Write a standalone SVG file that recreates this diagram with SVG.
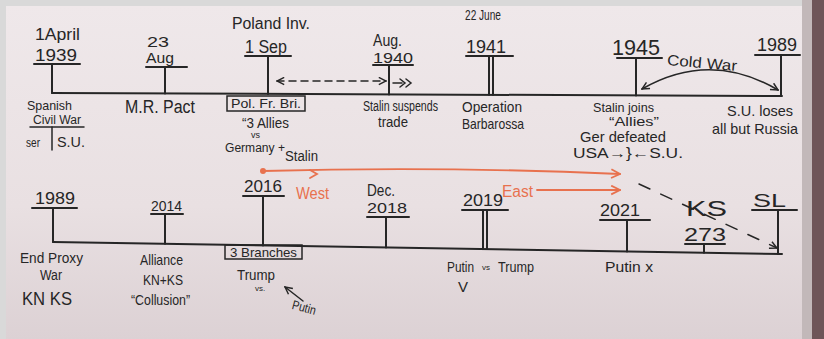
<svg xmlns="http://www.w3.org/2000/svg" width="824" height="339" viewBox="0 0 824 339">
<defs>
<linearGradient id="board" x1="0" y1="0" x2="0" y2="1">
<stop offset="0" stop-color="#efe8ea"/>
<stop offset="0.6" stop-color="#e9e0e2"/>
<stop offset="1" stop-color="#dcd1d4"/>
</linearGradient>
<marker id="ah" viewBox="0 0 10 10" refX="9" refY="5" markerWidth="9" markerHeight="9" orient="auto-start-reverse" markerUnits="userSpaceOnUse">
<path d="M1,1 L9,5 L1,9" fill="none" stroke="#262626" stroke-width="1.6"/>
</marker>
<marker id="oh" viewBox="0 0 10 10" refX="9" refY="5" markerWidth="11" markerHeight="11" orient="auto" markerUnits="userSpaceOnUse">
<path d="M1,1 L9,5 L1,9" fill="none" stroke="#e8714e" stroke-width="1.6"/>
</marker>
</defs>
<style>
.ink{stroke:#262626;stroke-width:2;fill:none;stroke-linecap:round}
.thin{stroke:#262626;stroke-width:1.5;fill:none;stroke-linecap:round}
.org{stroke:#e8714e;stroke-width:1.8;fill:none;stroke-linecap:round}
.t{font-family:"Liberation Sans",Arial,sans-serif;fill:#262626}
.ot{font-family:"Liberation Sans",Arial,sans-serif;fill:#e8714e}
</style>
<rect x="0" y="0" width="824" height="339" fill="#d9d9d9"/>
<rect x="6" y="6" width="798" height="333" fill="url(#board)"/>
<rect x="802" y="0" width="10" height="339" fill="#c2b8b9"/>
<rect x="812" y="0" width="12" height="339" fill="#6e5558"/>

<g id="connectors">
<line class="ink" x1="52" y1="93" x2="782" y2="96"/>
<line class="ink" x1="53" y1="242" x2="782" y2="254"/>
<line class="thin" x1="277" y1="81" x2="386" y2="81" stroke-dasharray="7 5" marker-start="url(#ah)" marker-end="url(#ah)"/>
<path class="thin" d="M393,83 L402,83 M400,79 L405,83 L400,87 M406,79 L411,83 L406,87"/>
<path class="thin" d="M642,89 Q710,50 778,90" marker-start="url(#ah)" marker-end="url(#ah)"/>
<line class="thin" x1="639" y1="184" x2="777" y2="248" stroke-dasharray="12 12" marker-end="url(#ah)"/>
<circle cx="263" cy="171" r="3" fill="#e8714e"/>
<path class="org" d="M263,171 Q440,166 620,174" marker-end="url(#oh)"/>
<path class="org" d="M310,170 L317,174 L310,178"/>
<line class="org" x1="537" y1="190" x2="620" y2="190" marker-end="url(#oh)"/>
<line class="thin" x1="303" y1="301" x2="285" y2="287" marker-end="url(#ah)"/>
</g>

<g id="n1939">
<text class="t" x="35" y="40" font-size="16" textLength="45" lengthAdjust="spacingAndGlyphs">1April</text>
<text class="t" x="35" y="61" font-size="16" textLength="42" lengthAdjust="spacingAndGlyphs">1939</text>
<line class="ink" x1="34" y1="64" x2="80" y2="64"/>
<line class="ink" x1="52" y1="64" x2="52" y2="93"/>
<text class="t" x="27" y="110" font-size="13" textLength="45" lengthAdjust="spacingAndGlyphs">Spanish</text>
<text class="t" x="33" y="124" font-size="12.5" textLength="48" lengthAdjust="spacingAndGlyphs">Civil War</text>
<line class="thin" x1="30" y1="127" x2="84" y2="127"/>
<line class="thin" x1="52" y1="127" x2="52" y2="150"/>
<text class="t" x="26" y="147" font-size="13" textLength="14" lengthAdjust="spacingAndGlyphs">ser</text>
<text class="t" x="57" y="147" font-size="15" textLength="28" lengthAdjust="spacingAndGlyphs">S.U.</text>
</g>

<g id="n23aug">
<text class="t" x="147" y="47" font-size="14" textLength="22" lengthAdjust="spacingAndGlyphs">23</text>
<text class="t" x="146" y="63" font-size="14" textLength="28" lengthAdjust="spacingAndGlyphs">Aug</text>
<line class="ink" x1="146" y1="67" x2="187" y2="67"/>
<line class="ink" x1="165" y1="67" x2="165" y2="93.5"/>
<text class="t" x="125" y="113" font-size="18" textLength="70" lengthAdjust="spacingAndGlyphs">M.R. Pact</text>
</g>

<g id="n1sep">
<text class="t" x="232" y="29" font-size="16" textLength="78" lengthAdjust="spacingAndGlyphs">Poland Inv.</text>
<text class="t" x="245" y="53" font-size="18" textLength="42" lengthAdjust="spacingAndGlyphs">1 Sep</text>
<line class="ink" x1="245" y1="56" x2="291" y2="56"/>
<line class="ink" x1="268" y1="56" x2="268" y2="94"/>
<rect class="thin" x="227" y="96" width="78" height="15"/>
<text class="t" x="231" y="108" font-size="13" textLength="70" lengthAdjust="spacingAndGlyphs">Pol. Fr. Bri.</text>
<text class="t" x="242" y="128" font-size="15" textLength="47" lengthAdjust="spacingAndGlyphs">“3 Allies</text>
<text class="t" x="251" y="138" font-size="9">vs</text>
<text class="t" x="225" y="152" font-size="12" textLength="60" lengthAdjust="spacingAndGlyphs">Germany +</text>
<text class="t" x="285" y="161" font-size="14" textLength="33" lengthAdjust="spacingAndGlyphs">Stalin</text>
</g>

<g id="n1940">
<text class="t" x="373" y="46" font-size="16" textLength="29" lengthAdjust="spacingAndGlyphs">Aug.</text>
<text class="t" x="373" y="63" font-size="15" textLength="40" lengthAdjust="spacingAndGlyphs">1940</text>
<line class="ink" x1="373" y1="65" x2="413" y2="65"/>
<line class="ink" x1="389" y1="65" x2="389" y2="94.4"/>
<text class="t" x="363" y="111" font-size="14" textLength="75" lengthAdjust="spacingAndGlyphs">Stalin suspends</text>
<text class="t" x="378" y="127" font-size="14" textLength="30" lengthAdjust="spacingAndGlyphs">trade</text>
</g>

<g id="n1941">
<text class="t" x="465" y="20" font-size="14" textLength="36" lengthAdjust="spacingAndGlyphs">22 June</text>
<text class="t" x="466" y="53" font-size="18" textLength="40" lengthAdjust="spacingAndGlyphs">1941</text>
<line class="ink" x1="466" y1="56" x2="513" y2="56"/>
<line class="ink" x1="489" y1="57" x2="489" y2="94.8"/>
<line class="ink" x1="493" y1="57" x2="493" y2="94.8"/>
<text class="t" x="462" y="112" font-size="15" textLength="60" lengthAdjust="spacingAndGlyphs">Operation</text>
<text class="t" x="462" y="129" font-size="15" textLength="62" lengthAdjust="spacingAndGlyphs">Barbarossa</text>
</g>

<g id="n1945">
<text class="t" x="612" y="55" font-size="22" textLength="48" lengthAdjust="spacingAndGlyphs">1945</text>
<line class="ink" x1="617" y1="58" x2="662" y2="58"/>
<line class="ink" x1="636" y1="58" x2="636" y2="95.4"/>
<text class="t" x="593" y="112" font-size="12.5" textLength="61" lengthAdjust="spacingAndGlyphs">Stalin joins</text>
<text class="t" x="609" y="126" font-size="12.5" textLength="50" lengthAdjust="spacingAndGlyphs">“Allies”</text>
<text class="t" x="580" y="142" font-size="14" textLength="86" lengthAdjust="spacingAndGlyphs">Ger defeated</text>
<text class="t" x="573" y="158" font-size="14" textLength="110" lengthAdjust="spacingAndGlyphs">USA→}←S.U.</text>
</g>

<g id="coldwar">
<text class="t" x="667" y="68" font-size="15" textLength="70" lengthAdjust="spacingAndGlyphs" transform="rotate(5 702 64)">Cold War</text>
</g>

<g id="n1989top">
<text class="t" x="757" y="51" font-size="18" textLength="40" lengthAdjust="spacingAndGlyphs">1989</text>
<line class="ink" x1="755" y1="55" x2="800" y2="55"/>
<line class="ink" x1="781" y1="55" x2="781" y2="96"/>
<text class="t" x="727" y="116" font-size="15" textLength="66" lengthAdjust="spacingAndGlyphs">S.U. loses</text>
<text class="t" x="712" y="134" font-size="15" textLength="86" lengthAdjust="spacingAndGlyphs">all but Russia</text>
</g>

<g id="n1989">
<text class="t" x="35" y="204" font-size="16" textLength="40" lengthAdjust="spacingAndGlyphs">1989</text>
<line class="ink" x1="32" y1="208" x2="77" y2="208"/>
<line class="ink" x1="53" y1="208" x2="53" y2="242"/>
<text class="t" x="20" y="263" font-size="14" textLength="63" lengthAdjust="spacingAndGlyphs">End Proxy</text>
<text class="t" x="40" y="280" font-size="14" textLength="22" lengthAdjust="spacingAndGlyphs">War</text>
<text class="t" x="22" y="305" font-size="18" textLength="50" lengthAdjust="spacingAndGlyphs">KN  KS</text>
</g>

<g id="n2014">
<text class="t" x="151" y="211" font-size="15" textLength="31" lengthAdjust="spacingAndGlyphs">2014</text>
<line class="ink" x1="151" y1="214" x2="183" y2="214"/>
<line class="ink" x1="165" y1="214" x2="165" y2="243.8"/>
<text class="t" x="140" y="265" font-size="15" textLength="43" lengthAdjust="spacingAndGlyphs">Alliance</text>
<text class="t" x="143" y="285" font-size="15" textLength="40" lengthAdjust="spacingAndGlyphs">KN+KS</text>
<text class="t" x="131" y="305" font-size="15" textLength="59" lengthAdjust="spacingAndGlyphs">“Collusion”</text>
</g>

<g id="n2016">
<text class="t" x="244" y="192" font-size="16" textLength="38" lengthAdjust="spacingAndGlyphs">2016</text>
<line class="ink" x1="243" y1="196" x2="284" y2="196"/>
<line class="ink" x1="263" y1="196" x2="263" y2="245.5"/>
<text class="ot" x="296" y="199" font-size="16" textLength="33" lengthAdjust="spacingAndGlyphs">West</text>
<rect class="thin" x="225" y="245" width="77" height="14"/>
<text class="t" x="230" y="257" font-size="13" textLength="67" lengthAdjust="spacingAndGlyphs">3 Branches</text>
<text class="t" x="237" y="280" font-size="15" textLength="38" lengthAdjust="spacingAndGlyphs">Trump</text>
<text class="t" x="255" y="291" font-size="8">vs.</text>
<text class="t" x="292" y="312" font-size="13" textLength="24" lengthAdjust="spacingAndGlyphs" transform="rotate(15 304 308)">Putin</text>
</g>

<g id="n2018">
<text class="t" x="367" y="196" font-size="16" textLength="28" lengthAdjust="spacingAndGlyphs">Dec.</text>
<text class="t" x="367" y="213" font-size="15" textLength="40" lengthAdjust="spacingAndGlyphs">2018</text>
<line class="ink" x1="367" y1="217" x2="409" y2="217"/>
<line class="ink" x1="386" y1="217" x2="386" y2="247.5"/>
</g>

<g id="n2019">
<text class="t" x="463" y="206" font-size="17" textLength="40" lengthAdjust="spacingAndGlyphs">2019</text>
<line class="ink" x1="462" y1="210" x2="508" y2="210"/>
<line class="ink" x1="483" y1="210" x2="483" y2="249"/>
<line class="ink" x1="487" y1="210" x2="487" y2="249"/>
<text class="ot" x="502" y="197" font-size="16" textLength="31" lengthAdjust="spacingAndGlyphs">East</text>
<text class="t" x="447" y="272" font-size="15" textLength="27" lengthAdjust="spacingAndGlyphs">Putin</text>
<text class="t" x="482" y="270" font-size="8">vs</text>
<text class="t" x="498" y="272" font-size="15" textLength="36" lengthAdjust="spacingAndGlyphs">Trump</text>
<text class="t" x="458" y="292" font-size="15">V</text>
</g>

<g id="n2021">
<text class="t" x="600" y="216" font-size="16" textLength="40" lengthAdjust="spacingAndGlyphs">2021</text>
<line class="ink" x1="600" y1="220" x2="650" y2="220"/>
<line class="ink" x1="627" y1="220" x2="627" y2="251.4"/>
<text class="t" x="605" y="272" font-size="15" textLength="48" lengthAdjust="spacingAndGlyphs">Putin x</text>
</g>

<g id="nKS">
<text class="t" x="686" y="216" font-size="22" textLength="41" lengthAdjust="spacingAndGlyphs">KS</text>
<text class="t" x="684" y="241" font-size="18" textLength="42" lengthAdjust="spacingAndGlyphs">273</text>
<line class="ink" x1="685" y1="244" x2="725" y2="244"/>
<line class="ink" x1="704" y1="244" x2="704" y2="252.7"/>
</g>

<g id="nSL">
<text class="t" x="753" y="207" font-size="18" textLength="33" lengthAdjust="spacingAndGlyphs">SL</text>
<line class="ink" x1="752" y1="210" x2="797" y2="210"/>
<line class="ink" x1="778" y1="210" x2="778" y2="254"/>
</g>
</svg>
